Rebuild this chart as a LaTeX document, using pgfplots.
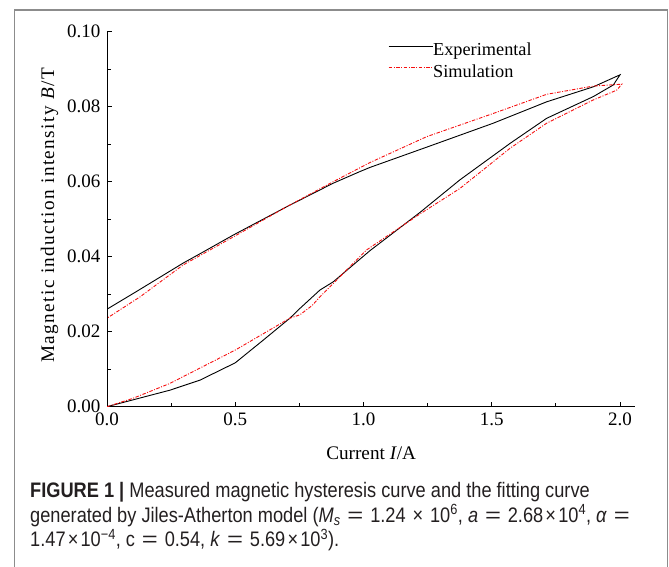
\documentclass[border=0pt]{standalone}
\usepackage{fontspec}
\setmainfont{Liberation Serif}
\newfontfamily\capfont{Liberation Sans}
\usepackage{pgfplots}
\pgfplotsset{compat=1.18}
\definecolor{simred}{RGB}{245,15,15}
\definecolor{framegray}{RGB}{140,140,140}
\definecolor{captext}{RGB}{35,31,32}
\newcommand{\eq}{\hspace{0.1em}\scalebox{1.5}[1]{=}\hspace{0.1em}}
\newcommand{\tm}{\hspace{0.12em}×\hspace{0.12em}}
\begin{document}
\begin{tikzpicture}
\path[use as bounding box] (0,0) rectangle (669pt,567pt);
\draw[framegray, line width=1.2pt] (14.5pt,-10pt) -- (14.5pt,557pt) -- (667.5pt,557pt) -- (667.5pt,-10pt);
\begin{axis}[
  at={(107pt,160.3pt)}, anchor=south west,
  scale only axis, width=528.4pt, height=375pt,
  xmin=0, xmax=2.06, ymin=0, ymax=0.10,
  axis x line*=bottom, axis y line*=left,
  axis line style={line width=0.9pt},
  tick align=inside,
  major tick length=5pt, minor tick length=3.5pt,
  xtick={0,0.5,1,1.5,2}, ytick={0,0.02,0.04,0.06,0.08,0.1},
  minor x tick num=1, minor y tick num=1,
  tick style={black, line width=0.8pt},
  scaled y ticks=false, scaled x ticks=false,
  /pgf/number format/assume math mode=true,
  tick label style={font=\fontsize{19}{19}\selectfont},
  xticklabel style={yshift=-3pt, /pgf/number format/.cd, fixed, fixed zerofill, precision=1},
  yticklabel style={xshift=-3pt, /pgf/number format/.cd, fixed, fixed zerofill, precision=2},
  xlabel={Current \textit{I}/A},
  ylabel={Magnetic induction intensity \textit{B}/T},
  xlabel style={font=\fontsize{19.2}{19.2}\selectfont, at={(axis description cs:0.5,0)}, anchor=base, yshift=-53pt},
  ylabel style={font=\fontsize{19.2}{19.2}\selectfont\addfontfeatures{LetterSpace=7.5}, at={(axis description cs:-0.1003,0.51)}, anchor=base},
  legend style={draw=none, fill=none, inner sep=0pt, at={(axis description cs:0.5318,0.970)}, anchor=north west,
    font=\fontsize{18.3}{18.3}\selectfont, row sep=7pt, nodes={inner sep=0pt}},
  legend cell align=left,
  legend image code/.code={\draw[#1] (0pt,0.38em) -- (44pt,0.38em);},
]
\addplot[black, line width=0.9pt] coordinates {
(0,0) (0.1,0.0018) (0.245,0.0044) (0.363,0.0071) (0.5,0.0117) (0.61,0.0178)
(0.713,0.0236) (0.752,0.0262) (0.83,0.0311) (0.882,0.0333) (1.025,0.0416)
(1.22,0.0518) (1.376,0.0605) (1.571,0.0702)
(1.714,0.0769) (1.896,0.0827) (1.974,0.0858) (2.0,0.0885)
(1.896,0.0853) (1.714,0.0813) (1.506,0.0756) (1.246,0.0692) (1.025,0.0638)
(0.986,0.0627) (0.882,0.0596) (0.70,0.0533) (0.493,0.0458) (0.363,0.0408)
(0.297,0.0383) (0.129,0.0313) (0,0.026)
};
\addlegendentry{Experimental}
\addplot[simred, line width=0.9pt, dash pattern=on 3.5pt off 1.5pt on 1pt off 1.5pt] coordinates {
(0,0) (0.1,0.0022) (0.245,0.0062) (0.5,0.0151) (0.713,0.0236) (0.752,0.0245)
(0.80,0.027) (0.83,0.0293) (1.012,0.0418) (1.22,0.0514) (1.376,0.0582)
(1.571,0.0689) (1.714,0.0756) (1.896,0.0818) (1.987,0.0844) (2.007,0.086)
(1.896,0.0855) (1.714,0.0833) (1.506,0.0782) (1.246,0.072) (1.025,0.0651)
(0.882,0.060) (0.70,0.0533) (0.493,0.0453) (0.297,0.0378) (0.129,0.0293) (0,0.0236)
};
\addlegendentry{Simulation}
\end{axis}
\begin{scope}[every node/.style={anchor=base west, inner sep=0pt, text=captext, font=\capfont\fontsize{21}{24.5}\selectfont}]
\node at (30pt,69pt) {\scalebox{0.867}[1]{\textbf{FIGURE 1} \textbf{|} Measured magnetic hysteresis curve and the fitting curve}};
\node at (30pt,44.5pt) {\scalebox{0.867}[1]{generated by Jiles-Atherton model (\textit{M}\textsubscript{\textit{s}} \eq{} 1.24\hspace{0.1em} × \hspace{0.1em}10\textsuperscript{6}, \textit{a} \eq{} 2.68\tm{}10\textsuperscript{4}, \textit{α} \eq}};
\node at (30pt,20pt) {\scalebox{0.867}[1]{1.47\tm{}10\textsuperscript{−4}, c \eq{} 0.54, \textit{k} \eq{} 5.69\tm{}10\textsuperscript{3}).}};
\end{scope}
\end{tikzpicture}
\end{document}
